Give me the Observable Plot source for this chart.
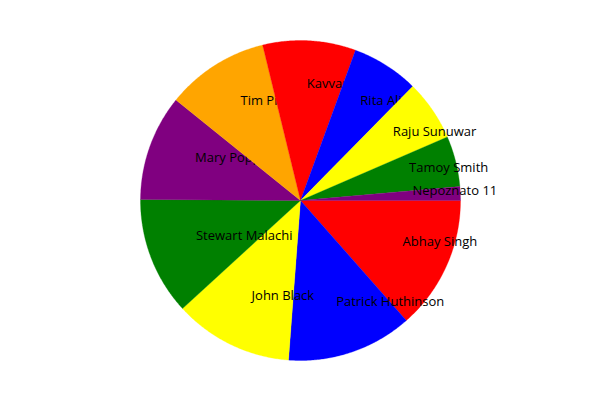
<!DOCTYPE html>
<html>
<head>
<meta charset="utf-8">
<script src="https://cdn.jsdelivr.net/npm/d3@7"></script>
<script src="https://cdn.jsdelivr.net/npm/@observablehq/plot@0.6"></script>
<style>
  html, body { margin: 0; padding: 0; background: #fff; }
  #chart { width: 600px; height: 400px; }
</style>
</head>
<body>
<div id="chart"></div>
<script>
// Data, in drawing order, clockwise from 3 o'clock
const names = ["Abhay Singh", "Patrick Huthinson", "John Black", "Stewart Malachi", "Mary Poppins",
               "Tim Pine", "Kavvarasan", "Rita Ali", "Raju Sunuwar", "Tamoy Smith", "Nepoznato 11"];
const values = [48.6, 45.7, 43.2, 42.9, 38.5, 37.4, 33.8, 24.4, 22.1, 18.4, 5.0];
const palette = ["#ff0000", "#0000ff", "#ffff00", "#008000", "#800080", "#ffa500"];

const total = d3.sum(values);
const marks = [];
let start = 0;
names.forEach((name, i) => {
  const a0 = start / total * 2 * Math.PI;
  const a1 = (start + values[i]) / total * 2 * Math.PI;
  start += values[i];
  const pts = [{x: 0, y: 0}];
  const n = Math.max(2, Math.ceil((a1 - a0) / (Math.PI / 360)));
  for (let k = 0; k <= n; k++) {
    const a = a0 + (a1 - a0) * k / n;
    pts.push({x: Math.cos(a), y: Math.sin(a)});
  }
  pts.push({x: 0, y: 0});
  const color = palette[i % palette.length];
  marks.push(Plot.line(pts, {x: "x", y: "y", fill: color, stroke: color, strokeWidth: 0.3, curve: "linear"}));
  const am = (a0 + a1) / 2;
  marks.push(Plot.text([{x: 0.7 * Math.cos(am), y: 0.7 * Math.sin(am), label: name}], {
    x: "x", y: "y", text: "label", textAnchor: "start", lineAnchor: "bottom",
    fontSize: 13, fill: "#000", dy: -1
  }));
});

const chart = Plot.plot({
  width: 600,
  height: 400,
  margin: 0,
  style: {fontFamily: "'Open Sans', 'Noto Sans', sans-serif", background: "#fff"},
  x: {domain: [-300 / 160, 300 / 160], range: [0, 600], axis: null},
  y: {domain: [-200 / 160, 200 / 160], range: [0, 400], axis: null},
  marks
});
document.getElementById("chart").appendChild(chart);
</script>
</body>
</html>
